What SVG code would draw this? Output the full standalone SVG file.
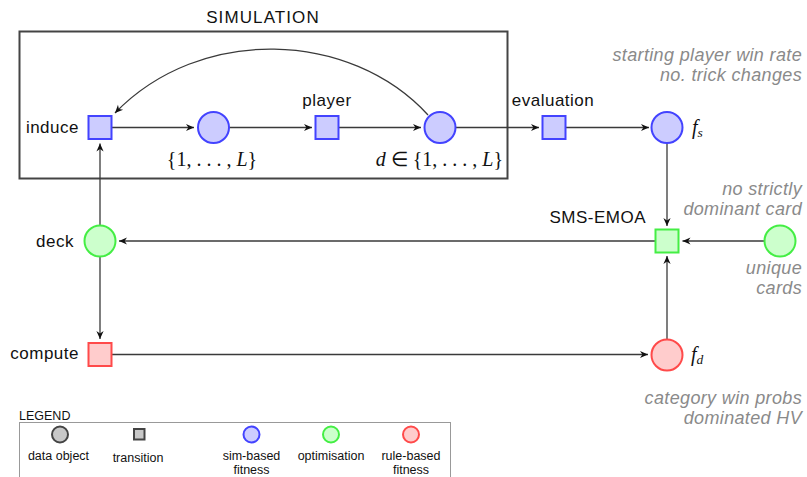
<svg xmlns="http://www.w3.org/2000/svg" width="807" height="477" viewBox="0 0 807 477">
  <defs>
    <marker id="arrow" viewBox="-9 -5 10 10" refX="0" refY="0" markerWidth="10" markerHeight="10" markerUnits="userSpaceOnUse" orient="auto">
      <path d="M0,0 L-8,-3.6 L-5.6,0 L-8,3.6 Z" fill="#111"/>
    </marker>
  </defs>
  <style>
    .lbl { font-family: "Liberation Sans", Arial, sans-serif; font-size: 17px; letter-spacing: 0.5px; fill: #111; }
    .note { font-family: "Liberation Sans", Arial, sans-serif; font-size: 18px; letter-spacing: 0.35px; font-style: italic; fill: #8a8a8a; text-anchor: end; }
    .math { font-family: "Liberation Serif", "Times New Roman", serif; font-size: 20px; fill: #111; }
    .it { font-style: italic; }
    .leg { font-family: "Liberation Sans", Arial, sans-serif; font-size: 12.5px; fill: #111; text-anchor: middle; }
    .sim { fill: #ccccff; stroke: #4343ff; stroke-width: 2; }
    .opt { fill: #ccffcc; stroke: #44ee44; stroke-width: 2; }
    .rule { fill: #ffcccc; stroke: #ff4a4a; stroke-width: 2; }
    .gray { fill: #c8c8c8; stroke: #444; stroke-width: 2; }
    .edge { fill: none; stroke: #3a3a3a; stroke-width: 1.3; marker-end: url(#arrow); }
  </style>

  <!-- simulation frame -->
  <g id="simulation">
    <rect x="19.5" y="31.5" width="488" height="147" fill="none" stroke="#444" stroke-width="2"/>
    <text x="263" y="23" class="lbl" font-size="18.5" text-anchor="middle" style="letter-spacing:1.1px">SIMULATION</text>
  </g>

  <!-- connectors -->
  <g id="connectors">
    <line class="edge" x1="112" y1="127.5" x2="194" y2="127.5"/>
    <line class="edge" x1="229" y1="127.5" x2="312" y2="127.5"/>
    <line class="edge" x1="339" y1="127.5" x2="421" y2="127.5"/>
    <line class="edge" x1="456" y1="127.5" x2="539" y2="127.5"/>
    <line class="edge" x1="565" y1="127.5" x2="649" y2="127.5"/>
    <path class="edge" d="M428,115 C350,30 200,25 115,113"/>
    <line class="edge" x1="667" y1="143" x2="667" y2="226"/>
    <line class="edge" x1="667" y1="339.5" x2="667" y2="256"/>
    <line class="edge" x1="764.5" y1="241" x2="682.5" y2="241"/>
    <line class="edge" x1="655.5" y1="241" x2="119" y2="241"/>
    <line class="edge" x1="100" y1="225.5" x2="100" y2="143.5"/>
    <line class="edge" x1="100" y1="256.5" x2="100" y2="339"/>
    <line class="edge" x1="111.5" y1="354.5" x2="648" y2="354.5"/>
  </g>

  <!-- nodes -->
  <g id="induce">
    <rect class="sim" x="88.5" y="116" width="23" height="23"/>
    <text class="lbl" x="79" y="133" text-anchor="end">induce</text>
  </g>
  <g id="levels">
    <circle class="sim" cx="213.5" cy="127.5" r="15.5"/>
    <text class="math" x="212" y="166" text-anchor="middle">{1, . . . , <tspan class="it">L</tspan>}</text>
  </g>
  <g id="player">
    <rect class="sim" x="315.5" y="116" width="23" height="23"/>
    <text class="lbl" x="327" y="106" text-anchor="middle">player</text>
  </g>
  <g id="depth">
    <circle class="sim" cx="440" cy="127.5" r="15.5"/>
    <text class="math" x="503" y="166" text-anchor="end"><tspan class="it">d</tspan> ∈ {1, . . . , <tspan class="it">L</tspan>}</text>
  </g>
  <g id="evaluation">
    <rect class="sim" x="542.5" y="116" width="23" height="23"/>
    <text class="lbl" x="553" y="106" text-anchor="middle">evaluation</text>
  </g>
  <g id="fs">
    <circle class="sim" cx="667" cy="127.5" r="15.5"/>
    <text class="math" x="692" y="134"><tspan class="it">f</tspan><tspan class="it" font-size="13.5" dy="3">s</tspan></text>
    <text class="note" x="802" y="61">starting player win rate</text>
    <text class="note" x="802" y="81">no. trick changes</text>
  </g>
  <g id="sms-emoa">
    <rect class="opt" x="655.5" y="229.5" width="23" height="23"/>
    <text class="lbl" x="646" y="223" text-anchor="end">SMS-EMOA</text>
    <text class="note" x="802" y="195">no strictly</text>
    <text class="note" x="802" y="215">dominant card</text>
  </g>
  <g id="unique">
    <circle class="opt" cx="780" cy="241" r="15.5"/>
    <text class="note" x="802" y="274">unique</text>
    <text class="note" x="802" y="294">cards</text>
  </g>
  <g id="deck">
    <circle class="opt" cx="100" cy="241" r="15.5"/>
    <text class="lbl" x="74" y="247" text-anchor="end">deck</text>
  </g>
  <g id="compute">
    <rect class="rule" x="88.5" y="343" width="23" height="23"/>
    <text class="lbl" x="79" y="359" text-anchor="end">compute</text>
  </g>
  <g id="fd">
    <circle class="rule" cx="667" cy="355" r="15.5"/>
    <text class="math" x="691" y="361"><tspan class="it">f</tspan><tspan class="it" font-size="13.5" dy="3">d</tspan></text>
    <text class="note" x="802" y="404">category win probs</text>
    <text class="note" x="802" y="424">dominated HV</text>
  </g>

  <!-- legend -->
  <g id="legend">
    <text x="19" y="420" font-family="Liberation Sans, Arial, sans-serif" font-size="12.5" fill="#111">LEGEND</text>
    <rect x="19.5" y="422.5" width="431" height="60" fill="none" stroke="#999" stroke-width="1"/>
    <circle class="gray" cx="60" cy="434.5" r="8"/>
    <text class="leg" x="58.5" y="460">data object</text>
    <rect class="gray" x="134" y="429" width="10.5" height="10.5"/>
    <text class="leg" x="138" y="462">transition</text>
    <circle class="sim" cx="251.5" cy="434.5" r="8"/>
    <text class="leg" x="251.5" y="460">sim-based</text>
    <text class="leg" x="251.5" y="474">fitness</text>
    <circle class="opt" cx="331" cy="434.5" r="8"/>
    <text class="leg" x="331" y="460">optimisation</text>
    <circle class="rule" cx="411" cy="434.5" r="8"/>
    <text class="leg" x="411" y="460">rule-based</text>
    <text class="leg" x="411" y="474">fitness</text>
  </g>
</svg>
